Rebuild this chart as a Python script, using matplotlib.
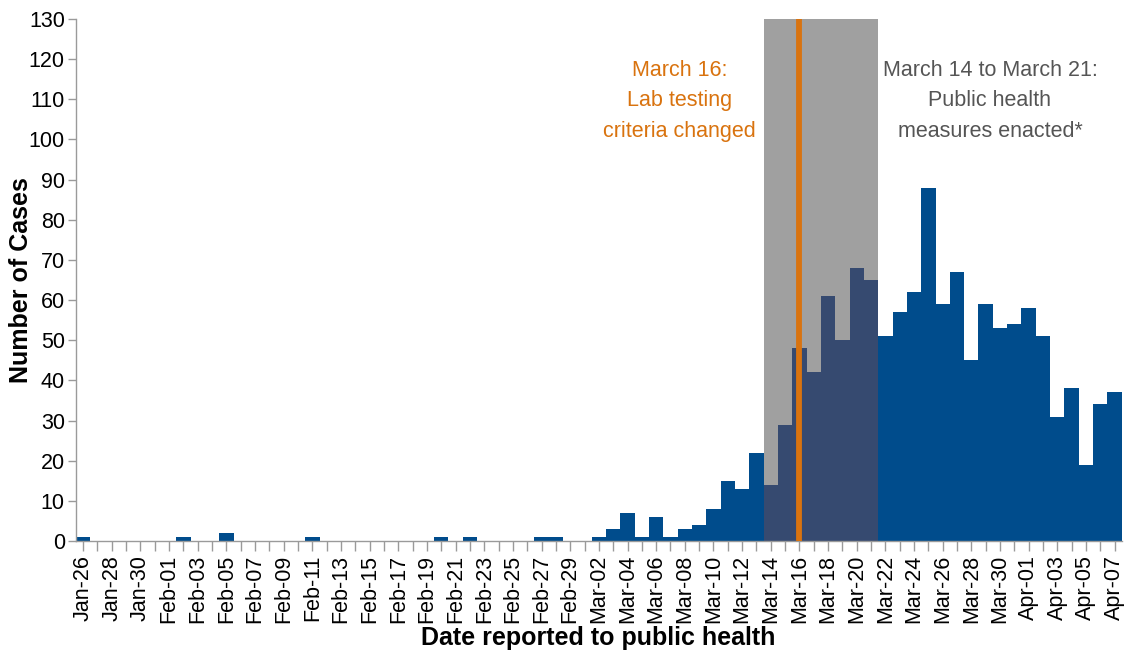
#!/usr/bin/env python3
import matplotlib

matplotlib.use("Agg")

import matplotlib.pyplot as plt
import pandas as pd

plt.rcParams["font.family"] = ["Liberation Sans", "DejaVu Sans"]

# daily cases by date reported, Jan 26 - Apr 07 (2020)
dates = pd.date_range("2020-01-26", "2020-04-07", freq="D")
jan_cases = [1, 0, 0, 0, 0, 0]
feb_cases = [0, 1, 0, 0, 2, 0, 0, 0, 0, 0, 1, 0, 0, 0, 0, 0, 0, 0, 0, 1,
             0, 1, 0, 0, 0, 0, 1, 1, 0]
mar_cases = [0, 1, 3, 7, 1, 6, 1, 3, 4, 8, 15, 13, 22, 14, 29, 48, 42, 61,
             50, 68, 65, 51, 57, 62, 88, 59, 67, 45, 59, 53, 54]
apr_cases = [58, 51, 31, 38, 19, 34, 37]
cases = jan_cases + feb_cases + mar_cases + apr_cases

tick_labels = [d.strftime("%b-%d") for d in dates]

band_start = pd.Timestamp("2020-03-14")
band_end = pd.Timestamp("2020-03-21")
lab_change = pd.Timestamp("2020-03-16")

BLUE = "#004c8c"
BLUE_IN_BAND = "#364a70"
GREY_BAND = "#a0a0a0"
ORANGE = "#d9730f"
AXIS_GREY = "#9a9a9a"


def main() -> None:
    fig = plt.figure(figsize=(11.24, 6.5), dpi=100)
    ax = fig.add_axes([0.0676, 0.1677, 0.9304, 0.8031])

    x = list(range(len(dates)))
    in_band = [(band_start <= d <= band_end) for d in dates]
    colors = [BLUE_IN_BAND if b else BLUE for b in in_band]

    i0 = list(dates).index(band_start)
    i1 = list(dates).index(band_end)
    ax.axvspan(i0 - 0.5, i1 + 0.5, color=GREY_BAND, zorder=0, lw=0)
    ax.bar(x, cases, width=1.0, color=colors, zorder=2, linewidth=0)
    ax.axvline(list(dates).index(lab_change), color=ORANGE, lw=4.2, zorder=3)

    ax.set_xlim(-0.5, len(dates) - 0.5)
    ax.set_ylim(0, 130)
    ax.set_yticks(range(0, 131, 10))
    ax.set_xticks(x)
    ax.set_xticklabels([t if i % 2 == 0 else "" for i, t in enumerate(tick_labels)],
                       rotation=90, fontsize=15.5)
    ax.tick_params(axis="y", labelsize=15.5, length=6, color=AXIS_GREY, width=1, pad=2)
    ax.tick_params(axis="x", length=7, color=AXIS_GREY, width=1, pad=3)

    for side in ("top", "right"):
        ax.spines[side].set_visible(False)
    for side in ("left", "bottom"):
        ax.spines[side].set_color(AXIS_GREY)
        ax.spines[side].set_linewidth(1)

    ax.set_ylabel("Number of Cases", fontsize=18, fontweight="bold")
    ax.yaxis.set_label_coords(-0.041, 0.5)
    ax.set_xlabel("Date reported to public health", fontsize=18, fontweight="bold")
    ax.xaxis.set_label_coords(0.499, -0.162)

    ax.text(0.577, 109.6, "March 16:\nLab testing\ncriteria changed",
            transform=ax.get_yaxis_transform(), ha="center", va="center",
            fontsize=15.5, color=ORANGE, linespacing=1.58)
    ax.text(0.874, 109.6, "March 14 to March 21:\nPublic health\nmeasures enacted*",
            transform=ax.get_yaxis_transform(), ha="center", va="center",
            fontsize=15.5, color="#555555", linespacing=1.58)

    fig.savefig("out.png", dpi=100)
    plt.close(fig)


if __name__ == "__main__":
    main()
